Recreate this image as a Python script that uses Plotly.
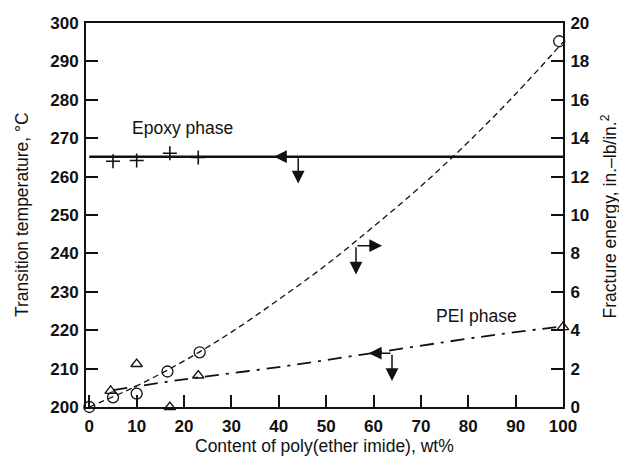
import plotly.graph_objects as go

# ---- data ----
epoxy_x = [5, 10, 17, 23]
epoxy_tg = [264.0, 264.2, 266.1, 265.0]
epoxy_line_x = [0, 100]
epoxy_line_y = [265.2, 265.2]

pei_x = [4.5, 10, 17, 23, 100]
pei_tg = [204.2, 211.2, 200.0, 208.2, 220.8]
pei_line_x = [5, 20, 40, 60, 80, 90, 100]
pei_line_y = [204.4, 207.2, 210.4, 214.1, 217.8, 219.5, 221.0]

frac_x = [0, 5, 10, 16.5, 23.3, 99.2]
frac_e = [0.0, 0.5, 0.7, 1.85, 2.85, 19.05]
frac_line_x = [0, 10, 20, 30, 40, 50, 60, 70, 80, 90, 100]
frac_line_y = [0.0, 1.1, 2.4, 3.9, 5.6, 7.4, 9.4, 11.5, 13.8, 16.3, 19.0]

x_ticks = [0, 10, 20, 30, 40, 50, 60, 70, 80, 90, 100]
y_ticks = [200, 210, 220, 230, 240, 250, 260, 270, 280, 290, 300]
y2_ticks = [0, 2, 4, 6, 8, 10, 12, 14, 16, 18, 20]

FONT = "Liberation Sans"
BLK = "#111"
TICKFONT = dict(family=FONT, size=17, weight="bold", color=BLK)
TITLEFONT = dict(family=FONT, size=17.5, color=BLK)

fig = go.Figure()

fig.add_trace(go.Scatter(x=epoxy_line_x, y=epoxy_line_y, mode="lines",
                         line=dict(color=BLK, width=2.5), showlegend=False))
fig.add_trace(go.Scatter(x=epoxy_x, y=epoxy_tg, mode="markers",
                         marker=dict(symbol="cross-thin-open", size=10, color=BLK,
                                     line=dict(color=BLK, width=1.6)),
                         showlegend=False))
fig.add_trace(go.Scatter(x=pei_line_x, y=pei_line_y, mode="lines", line_shape="spline",
                         line=dict(color=BLK, width=1.8, dash="14px,7px,3px,7px"),
                         showlegend=False))
fig.add_trace(go.Scatter(x=pei_x, y=pei_tg, mode="markers",
                         marker=dict(symbol="triangle-up-open", size=10,
                                     color=BLK, line=dict(color=BLK, width=1.3)),
                         cliponaxis=False, showlegend=False))
fig.add_trace(go.Scatter(x=frac_line_x, y=frac_line_y, mode="lines", line_shape="spline",
                         yaxis="y2",
                         line=dict(color=BLK, width=1.3, dash="6px,4px"),
                         showlegend=False))
fig.add_trace(go.Scatter(x=frac_x, y=frac_e, mode="markers", yaxis="y2",
                         marker=dict(symbol="circle-open", size=11,
                                     color=BLK, line=dict(color=BLK, width=1.3)),
                         cliponaxis=False, showlegend=False))

def arrow(x, y, ax, ay, yref="y"):
    return dict(x=x, y=y, ax=ax, ay=ay, xref="x", yref=yref, axref="x", ayref=yref,
                text="", showarrow=True, arrowhead=2, arrowsize=1.7,
                arrowwidth=1.5, arrowcolor=BLK, standoff=0, startstandoff=0)

annotations = [
    # epoxy
    arrow(39.0, 265.2, 44.1, 265.2),
    arrow(44.1, 258.2, 44.1, 265.2),
    # fracture
    arrow(61.8, 8.4, 56.3, 8.4, "y2"),
    arrow(56.3, 6.9, 56.3, 8.4, "y2"),
    # PEI
    arrow(59.0, 214.0, 63.9, 214.0),
    arrow(63.9, 206.8, 63.9, 214.0),
    dict(x=19.7, y=272.6, xref="x", yref="y", text="Epoxy phase", showarrow=False,
         font=TITLEFONT),
    dict(x=81.8, y=223.6, xref="x", yref="y", text="PEI phase", showarrow=False,
         font=TITLEFONT),
    dict(x=0.5, y=-0.1016, xref="paper", yref="paper", xanchor="center", yanchor="middle",
         text="Content of poly(ether imide), wt%", showarrow=False, font=TITLEFONT),
    dict(x=-0.134, y=0.5, xref="paper", yref="paper", xanchor="center", yanchor="middle",
         text="Transition temperature, °C", showarrow=False, textangle=-90,
         font=TITLEFONT),
    dict(x=1.097, y=0.497, xref="paper", yref="paper", xanchor="center", yanchor="middle",
         text="Fracture energy, in.–lb/in.<sup>2</sup>", showarrow=False, textangle=-90,
         font=TITLEFONT),
]

axis_common = dict(ticks="inside", ticklen=12, tickwidth=1.5, tickcolor=BLK,
                   showline=True, linewidth=2, linecolor=BLK, showgrid=False,
                   zeroline=False, tickfont=TICKFONT, automargin=False)

# the page body has an 8px margin, so the figure is sized to fit inside the window
fig.update_layout(
    width=619, height=458,
    margin=dict(l=78, r=64, t=15, b=59, autoexpand=False),
    paper_bgcolor="white", plot_bgcolor="white",
    font=dict(family=FONT, color=BLK),
    xaxis=dict(range=[-0.7, 100], tickvals=x_ticks, mirror=True,
               ticklabelstandoff=3, **axis_common),
    yaxis=dict(range=[200, 300], tickvals=y_ticks, ticklabelstandoff=2, **axis_common),
    yaxis2=dict(range=[0, 20], tickvals=y2_ticks, overlaying="y", side="right",
                ticklabelstandoff=2, **axis_common),
    annotations=annotations,
    showlegend=False,
)

fig.write_html("out.html")
